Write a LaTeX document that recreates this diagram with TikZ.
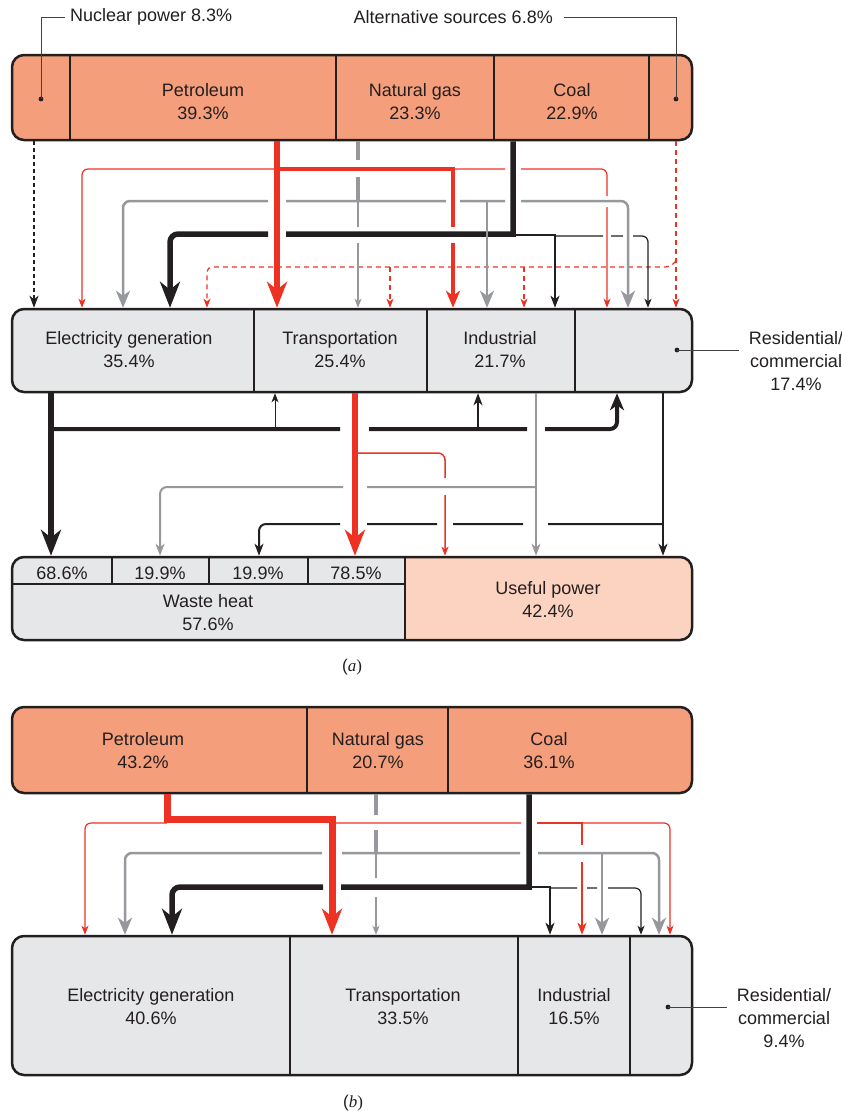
\documentclass[tikz,border=0pt]{standalone}
\usepackage{fontspec}
\setmainfont{Liberation Sans}
\newfontfamily\capfont{Liberation Serif}
\usetikzlibrary{arrows.meta}

\definecolor{fred}{RGB}{237,50,36}
\definecolor{fgray}{RGB}{150,152,156}
\definecolor{fblack}{RGB}{35,31,32}
\definecolor{srcfill}{RGB}{245,158,123}
\definecolor{usefill}{RGB}{230,231,232}
\definecolor{powfill}{RGB}{252,211,193}

\tikzset{
    bar/.style={draw=fblack, line width=2.5pt, rounded corners=12pt, inner sep=0pt},
    divline/.style={draw=fblack, line width=1.8pt},
    lbl/.style={align=center, inner sep=0pt, text=fblack, font=\fontsize{18}{23}\selectfont},
    dot/.style={circle, fill=fblack, inner sep=1.7pt},
    leader/.style={draw=fblack!85, line width=0.8pt},
    bigtip/.style={-{Stealth[length=26pt,width=20pt,inset=8pt]}},
    midtip/.style={-{Stealth[length=17pt,width=14pt,inset=5pt]}},
    smtip/.style={-{Stealth[length=12pt,width=9pt,inset=3.5pt]}},
    tinytip/.style={-{Stealth[length=9pt,width=7pt,inset=2.5pt]}},
    redflow/.style={draw=fred, line cap=butt},
    grayflow/.style={draw=fgray, line cap=butt},
    blkflow/.style={draw=fblack, line cap=butt},
    dashflow/.style={dash pattern=on 5pt off 4pt},
    trunk/.style={line width=5.5pt},
    stem/.style={line width=4pt},
    branch/.style={line width=2.5pt},
    twig/.style={line width=1.2pt},
}

\begin{document}
\begin{tikzpicture}[x=1pt, y=-1pt]
    \useasboundingbox (0,0) rectangle (842,1111);

    % ---------------- (a) ----------------
    % Sources bar
    \node[bar, fill=srcfill, minimum width=680pt, minimum height=85pt] (srcA) at (352,97.5) {};
    \foreach \x in {70,336,494,649}
        \draw[divline] (srcA.north -| \x,0) -- (srcA.south -| \x,0);
    \node[lbl] (petA) at (203,102) {Petroleum\\39.3\%};
    \node[lbl] (gasA) at (415,102) {Natural gas\\23.3\%};
    \node[lbl] (coalA) at (572,102) {Coal\\22.9\%};
    \node[dot] (nucdot) at (41,99) {};
    \node[dot] (altdot) at (676,99) {};
    \node[lbl, anchor=west] (nuclbl) at (70,17) {Nuclear power 8.3\%};
    \node[lbl, anchor=east] (altlbl) at (553,17) {Alternative sources 6.8\%};
    \draw[leader] (nucdot.center) |- ([xshift=-5pt]nuclbl.west);
    \draw[leader] (altdot.center) |- ([xshift=11pt]altlbl.east);

    % End-use bar
    \node[bar, fill=usefill, minimum width=680pt, minimum height=83pt] (useA) at (352,350.5) {};
    \foreach \x in {254,427,575}
        \draw[divline] (useA.north -| \x,0) -- (useA.south -| \x,0);
    \node[lbl] (elecA) at (129,350) {Electricity generation\\35.4\%};
    \node[lbl] (transA) at (340,350) {Transportation\\25.4\%};
    \node[lbl] (indA) at (500,350) {Industrial\\21.7\%};
    \node[dot] (resdotA) at (677,350) {};
    \node[lbl] (resA) at (796,361) {Residential/\\commercial\\17.4\%};
    \draw[leader] (resdotA.center) -- ([xshift=-10pt]resA.west |- resdotA);

    % Output bar
    \begin{scope}
        \clip[rounded corners=12pt] (12,557) rectangle (692,640);
        \fill[usefill] (12,557) rectangle (405,640);
        \fill[powfill] (405,557) rectangle (692,640);
    \end{scope}
    \node[bar, minimum width=680pt, minimum height=83pt] (outA) at (352,598.5) {};
    \draw[divline] (outA.north -| 405,0) -- (outA.south -| 405,0);
    \draw[divline] (outA.west |- 0,584) -- (405,584);
    \foreach \x in {112,209,308}
        \draw[divline] (outA.north -| \x,0) -- (\x,584);
    \foreach \x/\v in {62/68.6,160/19.9,258/19.9,356/78.5}
        \node[lbl] (heat\x) at (\x,573) {\v\%};
    \node[lbl] (wasteA) at (208,613) {Waste heat\\57.6\%};
    \node[lbl] (usefulA) at (548,600) {Useful power\\42.4\%};
    \node[text=fblack, font=\fontsize{17}{20}\selectfont] (capA) at (352,667) {(\capfont\itshape a\/\upshape)};

    % Flows into end uses (a)
    \draw[redflow, twig, dashflow, tinytip] (altdot |- srcA.south) -- (altdot |- useA.north);
    \draw[redflow, twig, dashflow, tinytip, rounded corners=5pt] (676,261) -- (670,267) -- (207,267) -- (useA.north -| 207,0);
    \foreach \x in {390,524}
        \draw[redflow, twig, dashflow, tinytip] (\x,267) -- (useA.north -| \x,0);
    \draw[blkflow, line width=1.5pt, dash pattern=on 4pt off 3pt, smtip] (srcA.south -| 34,0) -- (useA.north -| 34,0);

    % natural gas
    \draw[grayflow, stem] (srcA.south -| 358,0) -- (358,160) (358,177) -- (358,202);
    \draw[grayflow, branch, midtip, rounded corners=7pt] (358,201) -- (286,201) (268,201) -| (useA.north -| 123,0);
    \draw[grayflow, branch, midtip, rounded corners=7pt] (358,201) -- (446,201) (460,201) -- (505,201) (521,201) -| (useA.north -| 628,0);
    \draw[grayflow, twig, tinytip] (358,202) -- (358,227) (358,243) -- (useA.north -| 358,0);

    % coal, thin branch
    \draw[blkflow, twig, tinytip, rounded corners=6pt] (555,236) -- (603,236) (611,236) -- (623,236) (633,236) -| (useA.north -| 648,0);

    % petroleum branches
    \draw[redflow, twig, tinytip, rounded corners=6pt] (277,169) -| (useA.north -| 82,0);
    \draw[redflow, stem, midtip] (277,169) -- (453,169) -- (453,227) (453,243) -- (useA.north -| 453,0);
    \draw[redflow, twig, tinytip, rounded corners=6pt] (455,169) -- (505,169) (521,169) -- (607,169) -- (607,196) (607,207) -- (useA.north -| 607,0);

    % coal
    \draw[blkflow, trunk, bigtip] (srcA.south -| 513,0) -- (513,234) -- (286,234) (268,234) [rounded corners=8pt] -| (useA.north -| 170,0);
    \draw[blkflow, branch, smtip] (516,235) -| (useA.north -| 555,0);
    \draw[grayflow, branch, midtip] (487,202) -- (useA.north -| 487,0);

    % petroleum trunk
    \draw[redflow, trunk, bigtip] (srcA.south -| 277,0) -- (useA.north -| 277,0);

    % Flows into outputs (a)
    \draw[blkflow, trunk, bigtip] (useA.south -| 51,0) -- (outA.north -| 51,0);
    \draw[blkflow, stem, midtip, rounded corners=7pt] (51,429) -- (340,429) (369,429) -- (527,429) (545,429) -| (useA.south -| 617,0);
    \draw[blkflow, line width=1pt, tinytip] (275,429) -- (useA.south -| 275,0);
    \draw[blkflow, line width=1.8pt, smtip] (478,429) -- (useA.south -| 478,0);
    \draw[blkflow, line width=2pt, smtip, rounded corners=7pt] (663,524) -- (548,524) (523,524) -- (453,524) (437,524) -- (367,524) (340,524) -| (outA.north -| 259,0);
    \draw[blkflow, line width=1.5pt, smtip] (useA.south -| 663,0) -- (outA.north -| 663,0);
    \draw[redflow, line width=1.5pt, tinytip, rounded corners=7pt] (355,453) -| (445,478) (445,495) -- (outA.north -| 445,0);
    \draw[grayflow, line width=2pt, smtip] (useA.south -| 536,0) -- (outA.north -| 536,0);
    \draw[grayflow, line width=2pt, smtip, rounded corners=7pt] (536,487) -- (367,487) (343,487) -| (outA.north -| 160,0);
    \draw[redflow, trunk, bigtip] (useA.south -| 355,0) -- (outA.north -| 355,0);

    % ---------------- (b) ----------------
    \node[bar, fill=srcfill, minimum width=680pt, minimum height=86pt] (srcB) at (352,750) {};
    \foreach \x in {307,448}
        \draw[divline] (srcB.north -| \x,0) -- (srcB.south -| \x,0);
    \node[lbl] (petB) at (143,751) {Petroleum\\43.2\%};
    \node[lbl] (gasB) at (378,751) {Natural gas\\20.7\%};
    \node[lbl] (coalB) at (549,751) {Coal\\36.1\%};

    \node[bar, fill=usefill, minimum width=680pt, minimum height=139pt] (useB) at (352,1005.5) {};
    \foreach \x in {290,518,630}
        \draw[divline] (useB.north -| \x,0) -- (useB.south -| \x,0);
    \node[lbl] (elecB) at (151,1007) {Electricity generation\\40.6\%};
    \node[lbl] (transB) at (403,1007) {Transportation\\33.5\%};
    \node[lbl] (indB) at (574,1007) {Industrial\\16.5\%};
    \node[dot] (resdotB) at (668,1007) {};
    \node[lbl] (resB) at (784,1018) {Residential/\\commercial\\9.4\%};
    \draw[leader] (resdotB.center) -- ([xshift=-10pt]resB.west |- resdotB);
    \node[text=fblack, font=\fontsize{17}{20}\selectfont] (capB) at (353,1103) {(\capfont\itshape b\/\upshape)};

    % natural gas
    \draw[grayflow, stem] (srcB.south -| 376,0) -- (376,815) (376,830) -- (376,854);
    \draw[grayflow, branch, midtip, rounded corners=7pt] (376,853) -- (342,853) (322,853) -| (useB.north -| 125,0);
    \draw[grayflow, branch, midtip, rounded corners=7pt] (376,853) -- (520,853) (538,853) -| (useB.north -| 659,0);
    \draw[grayflow, twig, tinytip] (376,853) -- (376,878) (376,897) -- (useB.north -| 376,0);
    \draw[grayflow, branch, midtip] (602,853) -- (useB.north -| 602,0);

    % coal, thin branch
    \draw[blkflow, twig, tinytip, rounded corners=6pt] (550,888) -- (577,888) (587,888) -- (597,888) (608,888) -| (useB.north -| 641,0);

    % petroleum branches
    \draw[redflow, twig, tinytip, rounded corners=6pt] (167,823) -| (useB.north -| 85,0);
    \draw[redflow, twig, tinytip, rounded corners=6pt] (332,823) -- (521,823) (537,823) -| (useB.north -| 670,0);
    \draw[redflow, branch, smtip] (537,823) -- (582,823) -- (582,845) (582,862) -- (useB.north -| 582,0);

    % coal
    \draw[blkflow, trunk, bigtip] (srcB.south -| 529,0) -- (529,887) -- (341,887) (323,887) [rounded corners=8pt] -| (useB.north -| 172,0);
    \draw[blkflow, branch, smtip] (532,887) -| (useB.north -| 550,0);

    % petroleum trunk
    \draw[redflow, line width=7pt, bigtip] (srcB.south -| 167,0) |- (332,819) -- (useB.north -| 332,0);
\end{tikzpicture}
\end{document}
